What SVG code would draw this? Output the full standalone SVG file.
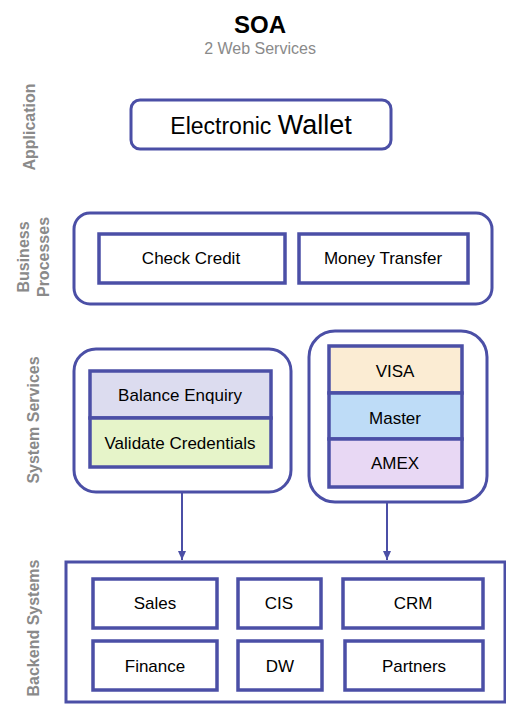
<svg xmlns="http://www.w3.org/2000/svg" width="506" height="719" viewBox="0 0 506 719">
<style>
.bg{fill:#ffffff}
.outer{fill:#ffffff;stroke:#4b4fa6;stroke-width:3}
.box{fill:#ffffff;stroke:#4b4fa6;stroke-width:3.5}
.t{font-family:"Liberation Sans",Arial,sans-serif;fill:#000;text-anchor:middle}
.n{font-size:17px}
.lbl{font-family:"Liberation Sans",Arial,sans-serif;font-weight:bold;fill:#8a8a8a;font-size:16px;text-anchor:middle}
.conn{stroke:#4b4fa6;stroke-width:2;fill:none}
</style>
<defs>
<marker id="arr" markerWidth="10" markerHeight="10" refX="9" refY="5" orient="auto" markerUnits="userSpaceOnUse">
<path d="M0,1 L9,5 L0,9 Z" fill="#4b4fa6"/>
</marker>
</defs>
<rect class="bg" x="0" y="0" width="506" height="719"/>
<g id="title">
<text class="t" x="260" y="33" font-size="24" font-weight="bold">SOA</text>
<text class="t" x="260" y="54" font-size="16" style="fill:#8a8a8a">2 Web Services</text>
</g>
<g id="layer-labels">
<text class="lbl" transform="translate(35,127) rotate(-90)">Application</text>
<text class="lbl" transform="translate(29,257) rotate(-90)">Business</text>
<text class="lbl" transform="translate(49,257) rotate(-90)">Processes</text>
<text class="lbl" transform="translate(39,420) rotate(-90)">System Services</text>
<text class="lbl" transform="translate(39,628) rotate(-90)">Backend Systems</text>
</g>
<g id="connectors">
<line class="conn" x1="182" y1="492" x2="182" y2="560" marker-end="url(#arr)"/>
<line class="conn" x1="387" y1="503" x2="387" y2="560" marker-end="url(#arr)"/>
</g>
<g id="electronic-wallet">
<rect class="outer" x="131" y="100" width="260" height="49" rx="9"/>
<text class="t" x="261" y="134"><tspan font-size="23">Electronic </tspan><tspan font-size="27">Wallet</tspan></text>
</g>
<g id="business-processes">
<rect class="outer" x="74" y="213" width="418" height="91" rx="16"/>
</g>
<g id="check-credit">
<rect class="box" x="99" y="234" width="186" height="49"/>
<text class="t n" x="191" y="264">Check Credit</text>
</g>
<g id="money-transfer">
<rect class="box" x="299" y="234" width="169" height="49"/>
<text class="t n" x="383" y="264">Money Transfer</text>
</g>
<g id="system-services-left">
<rect class="outer" x="74" y="349" width="217" height="143" rx="22"/>
</g>
<g id="balance-enquiry">
<rect class="box" x="90" y="371" width="181" height="47" style="fill:#dcdcef"/>
<text class="t n" x="180" y="401">Balance Enquiry</text>
</g>
<g id="validate-credentials">
<rect class="box" x="90" y="418" width="181" height="49" style="fill:#e6f4c9"/>
<text class="t n" x="180" y="449">Validate Credentials</text>
</g>
<g id="system-services-right">
<rect class="outer" x="309" y="331" width="178" height="171" rx="26"/>
</g>
<g id="visa">
<rect class="box" x="329" y="346" width="133" height="47" style="fill:#fbecd3"/>
<text class="t n" x="395" y="377">VISA</text>
</g>
<g id="master">
<rect class="box" x="329" y="393" width="133" height="46" style="fill:#bedcf7"/>
<text class="t n" x="395" y="424">Master</text>
</g>
<g id="amex">
<rect class="box" x="329" y="439" width="133" height="48" style="fill:#e8d8f4"/>
<text class="t n" x="395" y="469">AMEX</text>
</g>
<g id="backend-systems">
<rect class="outer" x="66" y="562" width="439" height="140"/>
</g>
<g id="sales">
<rect class="box" x="93" y="579" width="124" height="49"/>
<text class="t n" x="155" y="609">Sales</text>
</g>
<g id="cis">
<rect class="box" x="238" y="579" width="83" height="49"/>
<text class="t n" x="279" y="609">CIS</text>
</g>
<g id="crm">
<rect class="box" x="343" y="579" width="140" height="49"/>
<text class="t n" x="413" y="609">CRM</text>
</g>
<g id="finance">
<rect class="box" x="93" y="641" width="124" height="49"/>
<text class="t n" x="155" y="672">Finance</text>
</g>
<g id="dw">
<rect class="box" x="238" y="641" width="84" height="49"/>
<text class="t n" x="280" y="672">DW</text>
</g>
<g id="partners">
<rect class="box" x="345" y="641" width="138" height="49"/>
<text class="t n" x="414" y="672">Partners</text>
</g>
</svg>
